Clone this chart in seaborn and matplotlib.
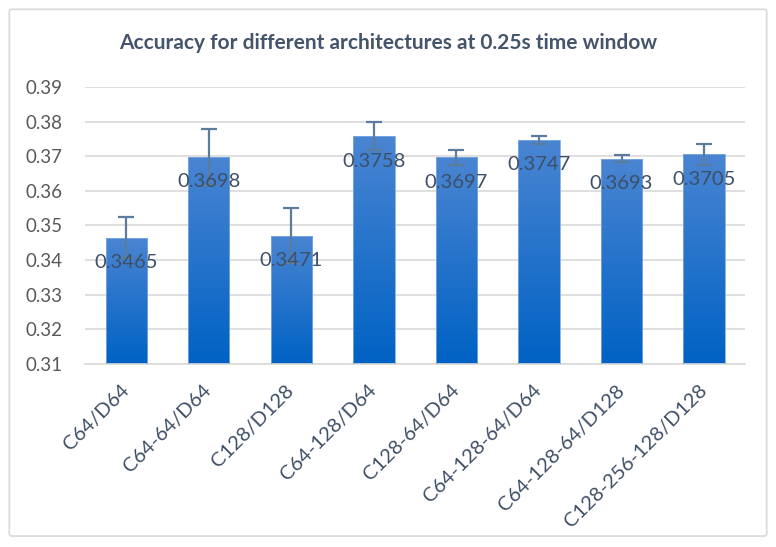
import numpy as np
import pandas as pd
import matplotlib
matplotlib.use("Agg")
import matplotlib.pyplot as plt
import seaborn as sns
from matplotlib.colors import LinearSegmentedColormap
from matplotlib.patches import FancyBboxPatch

categories = ["C64/D64", "C64-64/D64", "C128/D128", "C64-128/D64",
              "C128-64/D64", "C64-128-64/D64", "C64-128-64/D128", "C128-256-128/D128"]
accuracy = [0.3465, 0.3698, 0.3471, 0.3758, 0.3697, 0.3747, 0.3693, 0.3705]
errors = [0.0060, 0.0081, 0.0080, 0.0041, 0.0021, 0.0012, 0.0011, 0.0031]
yticks = [0.31, 0.32, 0.33, 0.34, 0.35, 0.36, 0.37, 0.38, 0.39]

sns.set_theme(style="white")
plt.rcParams['font.family'] = ['Lato', 'DejaVu Sans']

df = pd.DataFrame({"arch": categories, "acc": accuracy})

fig = plt.figure(figsize=(7.76, 5.47), dpi=100)
ax = fig.add_axes([0.1095, 0.3346, 0.851, 0.5064])

sns.barplot(data=df, x="arch", y="acc", ax=ax, width=0.5, color="#1f6fd0",
            errorbar=None, zorder=3)

ax.set_ylim(0.31, 0.39)
ax.set_xlim(-0.5, len(categories) - 0.5)

# gradient fill
cmap = LinearSegmentedColormap.from_list("g", ["#0062C4", "#4A85D2"])
grad = np.linspace(0, 1, 256).reshape(-1, 1)
for p in ax.patches:
    x0, y0 = p.get_x(), p.get_y()
    w, h = p.get_width(), p.get_height()
    p.set_facecolor("none")
    p.set_edgecolor("#7FA9E0")
    p.set_linewidth(0.6)
    im = ax.imshow(grad, cmap=cmap, aspect="auto", origin="lower",
                   extent=[x0, x0 + w, 0.31, y0 + h], zorder=2.5)
    im.set_clip_path(p)

xs = np.arange(len(categories))
ax.errorbar(xs, accuracy, yerr=errors, fmt="none", ecolor="#5B7C9C",
            elinewidth=1.6, capsize=6, capthick=1.6, zorder=4)

for x, v in zip(xs, accuracy):
    ax.text(x, v - 0.0072, f"{v:.4f}", ha="center", va="center",
            fontsize=14.5, color="#3E4F66", zorder=5)

ax.set_yticks(yticks)
ax.set_yticklabels([f"{t:.2f}" for t in yticks], fontsize=13.5, color="#595959")
ax.set_xticks(xs)
ax.set_xticklabels(categories, rotation=45, ha="right", va="center",
                   rotation_mode="anchor", fontsize=14.5, color="#3E4F66")
ax.tick_params(axis="y", length=0, pad=16)
ax.tick_params(axis="x", length=0, pad=17)
ax.yaxis.grid(True, color="#D9D9D9", linewidth=1.2, zorder=0)
ax.set_axisbelow(True)
for s in ["top", "right", "left"]:
    ax.spines[s].set_visible(False)
ax.spines["bottom"].set_color("#D9D9D9")
ax.spines["bottom"].set_linewidth(1.2)
ax.set_xlabel("")
ax.set_ylabel("")

fig.text(0.5, 0.922, "Accuracy for different architectures at 0.25s time window",
         ha="center", va="center", fontsize=15, fontweight="bold", color="#44546A")

border = FancyBboxPatch((0.012, 0.02), 0.976, 0.963, boxstyle="round,pad=0,rounding_size=0.004",
                        transform=fig.transFigure, fill=False, edgecolor="#D9D9D9",
                        linewidth=1.2)
fig.patches.append(border)

fig.savefig("out.png", dpi=100)
